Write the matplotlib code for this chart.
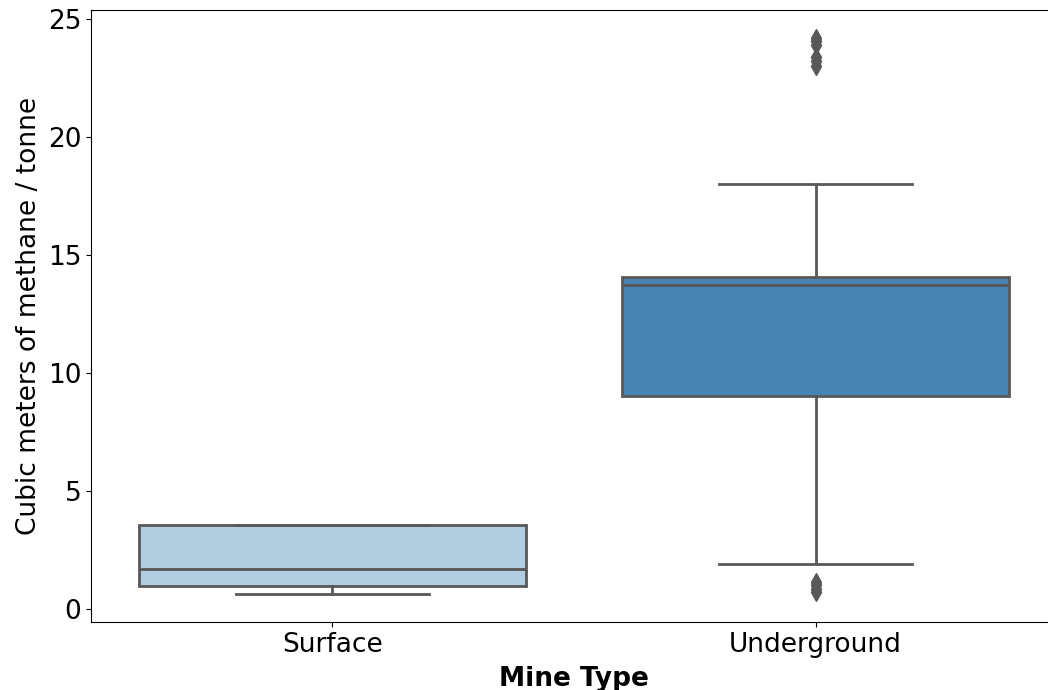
import matplotlib
matplotlib.use("Agg")
import matplotlib.pyplot as plt

categories = ["Surface", "Underground"]
q1 = [0.98, 9.04]
medians = [1.70, 13.71]
q3 = [3.55, 14.05]
whisker_low = [0.64, 1.91]
whisker_high = [3.55, 18.0]
outliers = [[], [0.72, 0.85, 1.0, 1.15, 23.0, 23.2, 23.4, 23.9, 24.05, 24.2]]
box_colors = ["#b1cde0", "#4884b3"]
line_color = "#585858"

fig = plt.figure(figsize=(10.48, 6.9), dpi=100)
ax = fig.add_axes([0.0868, 0.0986, 0.9218, 0.887])

stats = []
for i, c in enumerate(categories):
    stats.append(dict(label=c, q1=q1[i], med=medians[i], q3=q3[i],
                      whislo=whisker_low[i], whishi=whisker_high[i],
                      fliers=outliers[i]))

bp = ax.bxp(stats, positions=range(len(categories)), widths=0.8,
            patch_artist=True, showfliers=True,
            boxprops=dict(edgecolor=line_color, linewidth=2),
            medianprops=dict(color=line_color, linewidth=2),
            whiskerprops=dict(color=line_color, linewidth=2),
            capprops=dict(color=line_color, linewidth=2),
            flierprops=dict(marker="d", markerfacecolor=line_color,
                            markeredgecolor=line_color, markersize=9))
for patch, col in zip(bp["boxes"], box_colors):
    patch.set_facecolor(col)

ax.set_xlim(-0.5, 1.5)
ax.set_ylim(-0.55, 25.38)
ax.set_yticks([0, 5, 10, 15, 20, 25])
ax.set_xticks(range(len(categories)))
ax.set_xticklabels(categories)
ax.tick_params(axis="both", labelsize=19)
ax.set_xlabel("Mine Type", fontsize=19, fontweight="bold", labelpad=6)
ax.set_ylabel("Cubic meters of methane / tonne", fontsize=19)

fig.savefig("out.png", dpi=100)
